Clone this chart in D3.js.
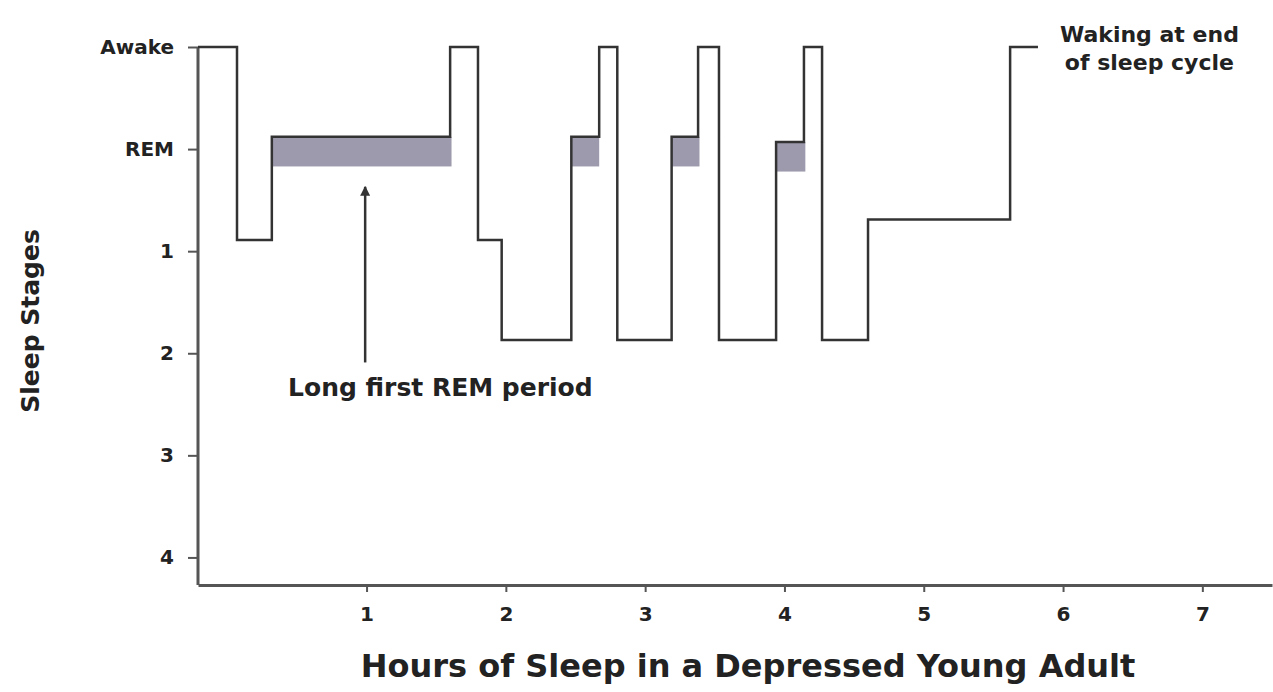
<!DOCTYPE html>
<html>
  <head>
    <meta charset="utf-8">
    <title>Hours of Sleep in a Depressed Young Adult</title>
    <script src="https://cdn.jsdelivr.net/npm/d3@7"></script>
    <style>
      body { margin: 0; background: #fff; }
      svg { display: block; font-family: "DejaVu Sans", Verdana, sans-serif; font-weight: bold; }
      .axis path, .axis line { stroke: #555; }
      .axis path { stroke-width: 3; }
      .axis line { stroke-width: 2; }
      .axis text { fill: #222; font-family: "DejaVu Sans", Verdana, sans-serif; font-weight: bold; }
    </style>
  </head>
  <body>
    <svg id="chart" width="1273" height="692"></svg>
    <script>
      // hypnogram steps: hour where each step starts, and depth (0 = awake, 1 = REM, 2..5 = stages 1..4)
      var sleepHours = [-0.21, 0.07, 0.32, 1.60, 1.80, 1.97, 2.47, 2.67, 2.80, 3.19, 3.38, 3.53, 3.94, 4.14, 4.27, 4.60, 5.62, 5.82];
      var sleepStage = [0, 1.89, 0.88, 0, 1.89, 2.87, 0.88, 0, 2.87, 0.88, 0, 2.87, 0.93, 0, 2.87, 1.69, 0, 0];
      // REM periods (shaded)
      var remStart = [0.32, 2.47, 3.19, 3.94];
      var remEnd = [1.61, 2.67, 3.39, 4.15];
      var remLevel = [0.88, 0.88, 0.88, 0.93];
      // axes
      var stageTicks = [0, 1, 2, 3, 4, 5];
      var stageLabels = ["Awake", "REM", "1", "2", "3", "4"];
      var hourTicks = [1, 2, 3, 4, 5, 6, 7];

      var svg = d3.select("#chart");

      var x = d3.scaleLinear()
        .domain([-0.21, 7.5])
        .range([198, 1272]);
      var y = d3.scaleLinear()
        .domain([0, 5.27])
        .range([47, 585]);

      // REM shading sits just under the REM line
      var bandDepth = 0.29;
      svg.append("g")
        .selectAll("rect")
          .data(remStart)
        .enter().append("rect")
          .attr("x", function(d) { return x(d); })
          .attr("y", function(d, i) { return y(remLevel[i]); })
          .attr("width", function(d, i) { return x(remEnd[i]) - x(d); })
          .attr("height", function(d, i) { return y(remLevel[i] + bandDepth) - y(remLevel[i]); })
          .style("fill", "#9c9aac");

      // axes
      var yAxis = d3.axisLeft(y)
        .tickValues(stageTicks)
        .tickFormat(function(d, i) { return stageLabels[i]; })
        .tickSize(10)
        .tickPadding(14)
        .tickSizeOuter(0);
      var yAxisGroup = svg.append("g")
        .attr("class", "axis")
        .attr("transform", "translate(" + x(-0.21) + ",0)")
        .call(yAxis);
      yAxisGroup.select(".domain").attr("d", "M0," + y(0) + "V" + y(5.27));
      yAxisGroup.selectAll("text").style("font-size", "20px");

      var xAxis = d3.axisBottom(x)
        .tickValues(hourTicks)
        .tickFormat(d3.format("d"))
        .tickSize(7)
        .tickPadding(15)
        .tickSizeOuter(0);
      var xAxisGroup = svg.append("g")
        .attr("class", "axis")
        .attr("transform", "translate(0," + y(5.27) + ")")
        .call(xAxis);
      xAxisGroup.selectAll("text").style("font-size", "20px");

      // hypnogram trace
      var line = d3.line()
        .x(function(d) { return x(d); })
        .y(function(d, i) { return y(sleepStage[i]); })
        .curve(d3.curveStepAfter);
      svg.append("path")
        .attr("d", line(sleepHours))
        .style("fill", "none")
        .style("stroke", "#333")
        .style("stroke-width", 2.5);

      // annotations
      svg.append("defs").append("marker")
        .attr("id", "arrow")
        .attr("viewBox", "0 0 10 10")
        .attr("refX", 9)
        .attr("refY", 5)
        .attr("markerWidth", 4)
        .attr("markerHeight", 4)
        .attr("orient", "auto")
        .append("path")
          .attr("d", "M0,0L10,5L0,10Z")
          .style("fill", "#333");
      svg.append("line")
        .attr("x1", x(0.99))
        .attr("y1", y(3.09))
        .attr("x2", x(0.99))
        .attr("y2", y(1.37))
        .attr("marker-end", "url(#arrow)")
        .style("stroke", "#333")
        .style("stroke-width", 2.5);
      svg.append("text")
        .attr("x", x(1.53))
        .attr("y", 396)
        .attr("text-anchor", "middle")
        .style("font-size", "25px")
        .style("fill", "#222")
        .text("Long first REM period");

      var note = svg.append("text")
        .attr("text-anchor", "middle")
        .style("font-size", "22px")
        .style("fill", "#222");
      note.append("tspan")
        .attr("x", x(6.62))
        .attr("y", 42)
        .text("Waking at end");
      note.append("tspan")
        .attr("x", x(6.62))
        .attr("y", 70)
        .text("of sleep cycle");

      // axis titles
      svg.append("text")
        .attr("transform", "translate(39," + 321 + ") rotate(-90)")
        .attr("text-anchor", "middle")
        .style("font-size", "25px")
        .style("fill", "#222")
        .text("Sleep Stages");
      svg.append("text")
        .attr("x", 748)
        .attr("y", 677)
        .attr("text-anchor", "middle")
        .style("font-size", "32px")
        .style("fill", "#222")
        .text("Hours of Sleep in a Depressed Young Adult");
    </script>
  </body>
</html>
